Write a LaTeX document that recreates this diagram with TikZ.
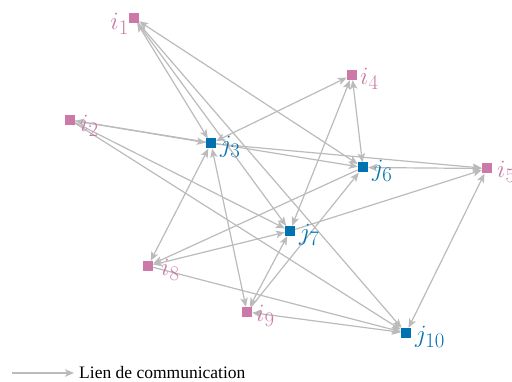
\documentclass[tikz,border=0pt]{standalone}
\usepackage{fontspec}
\newfontfamily\legendfont{Liberation Serif}
\usetikzlibrary{arrows.meta}
\definecolor{ipink}{HTML}{CC79A7}
\definecolor{jblue}{HTML}{0072B2}
\definecolor{lgray}{HTML}{BBBBBB}
\pgfdeclarelayer{bg}
\pgfsetlayers{bg,main}
\begin{document}
\begin{tikzpicture}[x=1pt,y=-1pt,
  ivert/.style={fill=ipink, minimum size=10pt, inner sep=0pt, draw=none},
  jvert/.style={fill=jblue, minimum size=10pt, inner sep=0pt, draw=none},
  ilab/.style={text=ipink, font=\Huge, inner sep=0pt},
  jlab/.style={text=jblue, font=\Huge, inner sep=0pt},
  tipx/.tip={Stealth[length=9pt,width=7.5pt,inset=2.2pt]},
  link/.style={draw=lgray, line width=1.2pt, -tipx},
  blink/.style={draw=lgray, line width=1.2pt, tipx-tipx}]
\useasboundingbox (0,0) rectangle (512,382);
% vertices
\node[ivert] (i1) at (134,18) {};
\node[ivert] (i2) at (70,120) {};
\node[jvert] (j3) at (211,143.5) {};
\node[ivert] (i4) at (352,75) {};
\node[ivert] (i5) at (487,168.5) {};
\node[jvert] (j6) at (363,167.5) {};
\node[jvert] (j7) at (290,231) {};
\node[ivert] (i8) at (148,266) {};
\node[ivert] (i9) at (247,312) {};
\node[jvert] (j10) at (406,333) {};
% labels
\node[ilab, anchor=base east] (li1) at (129,30) {$i_1$};
\node[ilab, anchor=base west] (li2) at (80,132) {$i_2$};
\node[jlab, anchor=base west] (lj3) at (220,153) {$j_3$};
\node[ilab, anchor=base west] (li4) at (360,85) {$i_4$};
\node[ilab, anchor=base west] (li5) at (497,178) {$i_5$};
\node[jlab, anchor=base west] (lj6) at (372,177) {$j_6$};
\node[jlab, anchor=base west] (lj7) at (299,241) {$j_7$};
\node[ilab, anchor=base west] (li8) at (161,276) {$i_8$};
\node[ilab, anchor=base west] (li9) at (256,322) {$i_9$};
\node[jlab, anchor=base west] (lj10) at (415,343) {$j_{10}$};
% links
\begin{pgfonlayer}{bg}
\draw[blink] (i1) -- (j3);
\draw[blink] (i1) -- (j6);
\draw[link] (i1) -- (j7);
\draw[link] (i1) -- (j10);
\draw[blink] (i2) -- (j3);
\draw[link] (i2) -- (j6);
\draw[link] (i2) -- (j7);
\draw[link] (i2) -- (j10);
\draw[blink] (j3) -- (i4);
\draw[blink] (i4) -- (j6);
\draw[blink] (j7) -- (i4);
\draw[link] (j3) -- (i5);
\draw[blink] (j6) -- (i5);
\draw[link] (j7) -- (i5);
\draw[blink] (j10) -- (i5);
\draw[blink] (j3) -- (i8);
\draw[link] (j6) -- (i8);
\draw[blink] (i8) -- (j7);
\draw[link] (i8) -- (j10);
\draw[blink] (j3) -- (i9);
\draw[link] (i9) -- (j6);
\draw[blink] (i9) -- (j7);
\draw[blink] (i9) -- (j10);
\end{pgfonlayer}
% legend
\coordinate (la) at (12,373);
\coordinate (lb) at (74,373);
\draw[link] (la) -- (lb);
\node[anchor=base west, inner sep=0pt, font=\legendfont\fontsize{17.5}{20}\selectfont] (leg) at (79,379) {Lien de communication};
\end{tikzpicture}
\end{document}
